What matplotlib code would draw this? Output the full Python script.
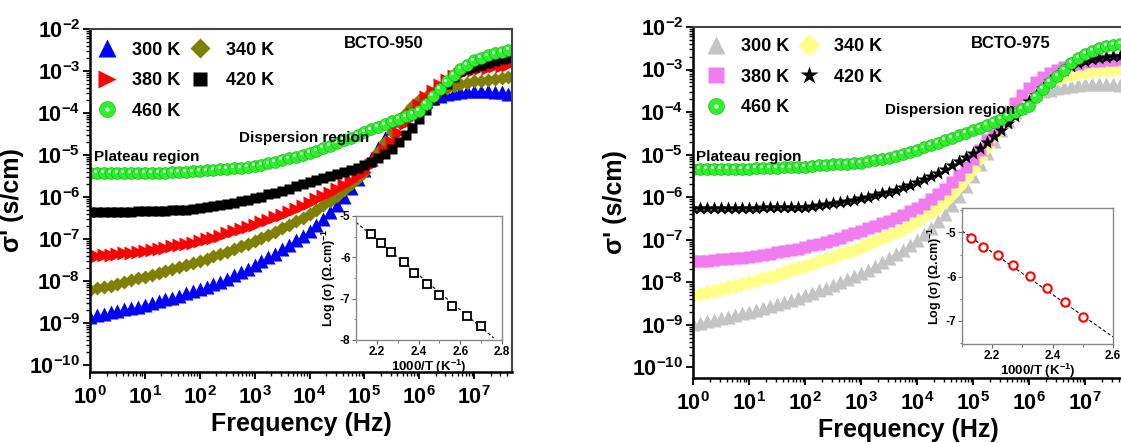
import numpy as np
import matplotlib
matplotlib.use("Agg")
import matplotlib.pyplot as plt
import matplotlib.lines as mlines
import matplotlib.ticker as mticker
import matplotlib.transforms as mtransforms
from matplotlib.legend_handler import HandlerTuple

plt.rcParams["font.family"] = ["Liberation Sans", "DejaVu Sans"]
plt.rcParams["font.weight"] = "bold"
plt.rcParams["mathtext.fontset"] = "custom"
plt.rcParams["mathtext.rm"] = "Liberation Sans:bold"
plt.rcParams["mathtext.bf"] = "Liberation Sans:bold"
plt.rcParams["mathtext.it"] = "Liberation Sans:bold"

# ---------- data: log10(frequency / Hz) and log10(sigma' / S cm^-1) ----------
log_freq = [0.0, 0.125, 0.25, 0.375, 0.5, 0.625, 0.75, 0.875,
            1.0, 1.125, 1.25, 1.375, 1.5, 1.625, 1.75, 1.875,
            2.0, 2.125, 2.25, 2.375, 2.5, 2.625, 2.75, 2.875,
            3.0, 3.125, 3.25, 3.375, 3.5, 3.625, 3.75, 3.875,
            4.0, 4.125, 4.25, 4.375, 4.5, 4.625, 4.75, 4.875,
            5.0, 5.125, 5.25, 5.375, 5.5, 5.625, 5.75, 5.875,
            6.0, 6.125, 6.25, 6.375, 6.5, 6.625, 6.75, 6.875,
            7.0, 7.125, 7.25, 7.375, 7.5, 7.625]

# BCTO-950
s950_300 = [-8.85, -8.82, -8.78, -8.75, -8.72, -8.68, -8.65, -8.61,
            -8.57, -8.53, -8.49, -8.44, -8.40, -8.35, -8.30, -8.25,
            -8.20, -8.14, -8.08, -8.02, -7.95, -7.87, -7.79, -7.71,
            -7.62, -7.53, -7.44, -7.35, -7.25, -7.14, -7.03, -6.92,
            -6.80, -6.66, -6.52, -6.37, -6.20, -6.00, -5.79, -5.57,
            -5.35, -5.09, -4.84, -4.59, -4.35, -4.17, -4.02, -3.90,
            -3.80, -3.72, -3.65, -3.60, -3.55, -3.52, -3.50, -3.48,
            -3.47, -3.47, -3.48, -3.49, -3.50, -3.55]
s950_340 = [-8.22, -8.18, -8.14, -8.11, -8.07, -8.03, -7.99, -7.94,
            -7.90, -7.86, -7.81, -7.77, -7.72, -7.67, -7.62, -7.57,
            -7.52, -7.47, -7.41, -7.36, -7.30, -7.24, -7.18, -7.12,
            -7.05, -6.98, -6.91, -6.83, -6.75, -6.67, -6.58, -6.49,
            -6.40, -6.30, -6.20, -6.09, -5.97, -5.84, -5.70, -5.56,
            -5.40, -5.17, -4.93, -4.69, -4.45, -4.22, -4.00, -3.83,
            -3.70, -3.61, -3.53, -3.46, -3.40, -3.36, -3.32, -3.28,
            -3.25, -3.23, -3.21, -3.19, -3.17, -3.15]
s950_380 = [-7.42, -7.41, -7.39, -7.38, -7.36, -7.34, -7.33, -7.31,
            -7.29, -7.26, -7.24, -7.21, -7.18, -7.15, -7.12, -7.09,
            -7.05, -7.01, -6.97, -6.92, -6.87, -6.82, -6.77, -6.72,
            -6.66, -6.60, -6.54, -6.48, -6.42, -6.35, -6.28, -6.21,
            -6.14, -6.06, -5.98, -5.90, -5.82, -5.72, -5.62, -5.51,
            -5.40, -5.24, -5.07, -4.89, -4.70, -4.47, -4.24, -4.02,
            -3.80, -3.63, -3.47, -3.33, -3.22, -3.13, -3.06, -3.01,
            -2.97, -2.94, -2.92, -2.89, -2.87, -2.85]
s950_420 = [-6.35, -6.35, -6.35, -6.35, -6.35, -6.35, -6.35, -6.34,
            -6.34, -6.34, -6.33, -6.33, -6.32, -6.31, -6.30, -6.28,
            -6.27, -6.25, -6.22, -6.20, -6.17, -6.14, -6.10, -6.07,
            -6.03, -5.99, -5.94, -5.90, -5.85, -5.80, -5.75, -5.70,
            -5.65, -5.60, -5.55, -5.50, -5.45, -5.40, -5.35, -5.30,
            -5.25, -5.17, -5.08, -4.97, -4.85, -4.70, -4.53, -4.35,
            -4.15, -3.93, -3.70, -3.48, -3.30, -3.14, -3.01, -2.95,
            -2.90, -2.85, -2.80, -2.76, -2.72, -2.70]
s950_460 = [-5.43, -5.43, -5.43, -5.43, -5.43, -5.43, -5.43, -5.43,
            -5.43, -5.43, -5.42, -5.42, -5.41, -5.41, -5.40, -5.39,
            -5.38, -5.37, -5.35, -5.34, -5.33, -5.31, -5.30, -5.28,
            -5.27, -5.24, -5.20, -5.16, -5.12, -5.08, -5.04, -5.00,
            -4.95, -4.90, -4.84, -4.78, -4.72, -4.65, -4.59, -4.52,
            -4.45, -4.39, -4.33, -4.27, -4.20, -4.14, -4.08, -4.02,
            -3.95, -3.78, -3.60, -3.42, -3.25, -3.09, -2.95, -2.85,
            -2.75, -2.68, -2.63, -2.58, -2.54, -2.50]

# BCTO-975
s975_300 = [-8.99, -8.96, -8.92, -8.89, -8.85, -8.81, -8.77, -8.73,
            -8.69, -8.65, -8.60, -8.56, -8.51, -8.46, -8.41, -8.36,
            -8.31, -8.25, -8.19, -8.13, -8.07, -8.00, -7.93, -7.86,
            -7.78, -7.70, -7.61, -7.52, -7.43, -7.33, -7.23, -7.12,
            -7.00, -6.87, -6.73, -6.57, -6.40, -6.19, -5.97, -5.74,
            -5.50, -5.23, -4.96, -4.69, -4.43, -4.20, -3.99, -3.81,
            -3.67, -3.57, -3.51, -3.47, -3.44, -3.41, -3.39, -3.37,
            -3.35, -3.34, -3.34, -3.34, -3.35, -3.37]
s975_340 = [-8.31, -8.27, -8.23, -8.20, -8.16, -8.12, -8.08, -8.04,
            -8.00, -7.96, -7.91, -7.87, -7.82, -7.77, -7.72, -7.67,
            -7.62, -7.57, -7.51, -7.46, -7.40, -7.34, -7.29, -7.23,
            -7.17, -7.10, -7.04, -6.97, -6.90, -6.82, -6.74, -6.65,
            -6.56, -6.45, -6.34, -6.22, -6.10, -5.92, -5.74, -5.55,
            -5.34, -5.07, -4.81, -4.54, -4.28, -4.03, -3.81, -3.65,
            -3.52, -3.42, -3.34, -3.27, -3.21, -3.16, -3.12, -3.09,
            -3.06, -3.04, -3.02, -3.00, -2.99, -2.98]
s975_380 = [-7.51, -7.50, -7.49, -7.48, -7.46, -7.45, -7.43, -7.42,
            -7.40, -7.38, -7.35, -7.33, -7.30, -7.27, -7.24, -7.21,
            -7.17, -7.13, -7.09, -7.05, -7.00, -6.95, -6.90, -6.85,
            -6.79, -6.73, -6.67, -6.61, -6.55, -6.48, -6.41, -6.33,
            -6.25, -6.15, -6.04, -5.92, -5.80, -5.64, -5.47, -5.29,
            -5.11, -4.88, -4.65, -4.42, -4.20, -3.99, -3.79, -3.60,
            -3.44, -3.30, -3.18, -3.08, -3.00, -2.94, -2.90, -2.86,
            -2.83, -2.81, -2.79, -2.78, -2.77, -2.76]
s975_420 = [-6.25, -6.25, -6.25, -6.25, -6.25, -6.25, -6.25, -6.25,
            -6.25, -6.25, -6.24, -6.24, -6.24, -6.23, -6.23, -6.22,
            -6.22, -6.20, -6.18, -6.15, -6.13, -6.11, -6.08, -6.06,
            -6.03, -5.99, -5.95, -5.91, -5.87, -5.82, -5.77, -5.71,
            -5.65, -5.58, -5.50, -5.42, -5.34, -5.25, -5.16, -5.06,
            -4.96, -4.84, -4.71, -4.57, -4.43, -4.26, -4.09, -3.92,
            -3.75, -3.59, -3.43, -3.28, -3.14, -3.02, -2.92, -2.85,
            -2.79, -2.75, -2.72, -2.70, -2.69, -2.68]
s975_460 = [-5.33, -5.33, -5.33, -5.33, -5.33, -5.33, -5.33, -5.33,
            -5.33, -5.32, -5.32, -5.31, -5.31, -5.30, -5.30, -5.29,
            -5.28, -5.27, -5.25, -5.24, -5.23, -5.22, -5.21, -5.20,
            -5.19, -5.16, -5.13, -5.10, -5.07, -5.03, -4.98, -4.94,
            -4.89, -4.83, -4.78, -4.72, -4.66, -4.60, -4.55, -4.49,
            -4.43, -4.37, -4.30, -4.23, -4.16, -4.08, -4.00, -3.93,
            -3.85, -3.65, -3.45, -3.29, -3.15, -3.00, -2.85, -2.73,
            -2.64, -2.56, -2.50, -2.45, -2.42, -2.40]

# insets: log(sigma_dc) vs 1000/T
inv_t_950 = [2.17, 2.22, 2.27, 2.33, 2.38, 2.44, 2.50, 2.56, 2.63, 2.70]
logs_950 = [-5.43, -5.65, -5.88, -6.12, -6.37, -6.64, -6.90, -7.17, -7.42, -7.65]
fit_x_950 = [2.10, 2.76]
fit_y_950 = [-5.15, -7.95]

inv_t_975 = [2.13, 2.17, 2.22, 2.27, 2.325, 2.38, 2.44, 2.50]
logs_975 = [-5.13, -5.33, -5.52, -5.74, -5.98, -6.26, -6.58, -6.92]
fit_x_975 = [2.10, 2.60]
fit_y_975 = [-4.97, -7.36]

temps = ["300 K", "340 K", "380 K", "420 K", "460 K"]
x_decades = [0, 1, 2, 3, 4, 5, 6, 7]
y_decades = [-10, -9, -8, -7, -6, -5, -4, -3, -2]

freq = 10.0 ** np.array(log_freq)

W, H = 1121, 443
fig = plt.figure(figsize=(W / 100, H / 100), dpi=100)


def px_axes(x0, x1, y0, y1):
    return fig.add_axes([x0 / W, 1 - y1 / H, (x1 - x0) / W, (y1 - y0) / H])


def balls(ax, x, y, ms):
    # green sphere with a small white highlight up-left
    hl = mtransforms.offset_copy(ax.transData, fig=fig, x=-1.8, y=1.8, units="dots")
    for xi, yi in zip(x, y):
        ax.plot(xi, yi, "o", color="#2cf02c", mec="#1aa81a", mew=0.4, ms=ms)
        ax.plot(xi, yi, "o", color="white", mec="none", ms=2.2, alpha=0.85, transform=hl)


def ball_handle(ms):
    return (mlines.Line2D([], [], marker="o", ls="None", color="#2cf02c", mec="#1aa81a", mew=0.4, ms=ms),
            mlines.Line2D([], [], marker="o", ls="None", color="white", mec="none", ms=ms * 0.28, alpha=0.85))


def minor_positions(decades):
    return [m * 10.0 ** d for d in decades[:-1] for m in range(2, 10)]


def style_main(ax, ybottom):
    ax.set_xscale("log")
    ax.set_yscale("log")
    ax.set_xlim(1, 10 ** 7.69)
    ax.set_ylim(10 ** ybottom, 1e-2)
    fmt = mticker.FuncFormatter(lambda v, p: r"$\mathbf{10^{%d}}$" % round(np.log10(v)))
    ax.xaxis.set_major_locator(mticker.FixedLocator([10.0 ** d for d in x_decades]))
    ax.yaxis.set_major_locator(mticker.FixedLocator([10.0 ** d for d in y_decades]))
    ax.xaxis.set_minor_locator(mticker.FixedLocator(minor_positions(x_decades + [8])
                                                    [:-2]))
    ax.yaxis.set_minor_locator(mticker.FixedLocator(minor_positions(y_decades)))
    ax.xaxis.set_major_formatter(fmt)
    ax.yaxis.set_major_formatter(fmt)
    ax.xaxis.set_minor_formatter(mticker.NullFormatter())
    ax.yaxis.set_minor_formatter(mticker.NullFormatter())
    ax.tick_params(which="major", direction="out", length=5, width=1.3, labelsize=15.5, pad=2)
    ax.tick_params(axis="x", which="major", pad=5)
    ax.tick_params(which="minor", direction="out", length=3, width=1.0)
    ax.tick_params(top=False, right=False)
    for side in ["left", "bottom"]:
        ax.spines[side].set_linewidth(1.8)
        ax.spines[side].set_color("black")
    for side in ["top", "right"]:
        ax.spines[side].set_linewidth(1.5)
        ax.spines[side].set_color("#444444")
    ax.set_xlabel("Frequency (Hz)", fontsize=18, fontweight="bold", labelpad=2)
    ax.set_ylabel("σ' (s/cm)", fontsize=18, fontweight="bold", labelpad=4)


def style_inset(ax, xlim, ylim, xticks, yticks):
    ax.set_xlim(*xlim)
    ax.set_ylim(*ylim)
    ax.set_xticks(xticks)
    ax.set_yticks(yticks)
    ax.xaxis.set_minor_locator(mticker.MultipleLocator(0.1))
    ax.yaxis.set_minor_locator(mticker.MultipleLocator(0.5))
    ax.xaxis.set_major_formatter(mticker.FormatStrFormatter("%.1f"))
    ax.yaxis.set_major_formatter(mticker.FuncFormatter(lambda v, p: "%d" % v))
    ax.tick_params(which="major", direction="out", length=3, width=0.8, labelsize=8.5, pad=1, color="#666666")
    ax.tick_params(which="minor", direction="out", length=1.8, width=0.6, color="#666666")
    for sp in ax.spines.values():
        sp.set_color("#888888")
        sp.set_linewidth(1.0)
    ax.set_xlabel(r"1000/T (K$^{-1}$)", fontsize=9.5, fontweight="bold", labelpad=0)
    ax.set_ylabel(r"Log (σ) (Ω.cm)$^{-1}$", fontsize=9, fontweight="bold", labelpad=1)


def legend(ax, handles, x0, y0):
    order = [0, 2, 4, 1, 3]
    hs = [handles[i] for i in order]
    ls = [temps[i] for i in order]
    leg = ax.legend(hs, ls, loc="upper left", bbox_to_anchor=(x0, y0), ncol=2, frameon=False,
                    prop={"size": 13, "weight": "bold"}, handlelength=1.0, handletextpad=0.9,
                    columnspacing=0.6, labelspacing=0.75, borderpad=0, borderaxespad=0,
                    markerscale=1.35, handler_map={tuple: HandlerTuple(ndivide=1, pad=0)})
    return leg


# ---------- left panel: BCTO-950 ----------
ax1 = px_axes(90, 512, 29, 372)
ax1.plot(freq, 10.0 ** np.array(s950_300), "^", color="#0000ff", mec="none", ms=9.5)
ax1.plot(freq, 10.0 ** np.array(s950_340), "D", color="#808000", mec="none", ms=7.5)
ax1.plot(freq, 10.0 ** np.array(s950_380), ">", color="#ff0000", mec="none", ms=9.5)
ax1.plot(freq, 10.0 ** np.array(s950_420), "s", color="black", mec="none", ms=7)
balls(ax1, freq, 10.0 ** np.array(s950_460), 8.5)
style_main(ax1, -10.17)
h950 = [mlines.Line2D([], [], marker="^", ls="None", color="#0000ff", mec="none", ms=9.5),
        mlines.Line2D([], [], marker="D", ls="None", color="#808000", mec="none", ms=7.5),
        mlines.Line2D([], [], marker=">", ls="None", color="#ff0000", mec="none", ms=9.5),
        mlines.Line2D([], [], marker="s", ls="None", color="black", mec="none", ms=7),
        ball_handle(8.5)]
legend(ax1, h950, 0.019, 0.963)
ax1.text(0.695, 0.959, "BCTO-950", transform=ax1.transAxes, ha="center", va="center",
         fontsize=12, fontweight="bold")
ax1.text(0.507, 0.682, "Dispersion region", transform=ax1.transAxes, ha="center", va="center",
         fontsize=11, fontweight="bold")
ax1.text(0.135, 0.627, "Plateau region", transform=ax1.transAxes, ha="center", va="center",
         fontsize=11, fontweight="bold")

in1 = px_axes(356, 502, 216, 340)
in1.plot(fit_x_950, fit_y_950, ls=(0, (3, 2)), color="black", lw=0.8)
in1.plot(inv_t_950, logs_950, "s", mfc="white", mec="black", mew=1.3, ms=5.5)
style_inset(in1, (2.1, 2.8), (-8, -5), [2.2, 2.4, 2.6, 2.8], [-8, -7, -6, -5])

# ---------- right panel: BCTO-975 ----------
ax2 = px_axes(693, 1124, 27, 378)
ax2.plot(freq, 10.0 ** np.array(s975_300), "^", color="#c4c4c4", mec="none", ms=10)
ax2.plot(freq, 10.0 ** np.array(s975_340), "D", color="#ffff88", mec="none", ms=8.5)
ax2.plot(freq, 10.0 ** np.array(s975_380), "s", color="#f07cf0", mec="none", ms=8.5)
ax2.plot(freq, 10.0 ** np.array(s975_420), "*", color="black", mec="none", ms=10)
balls(ax2, freq, 10.0 ** np.array(s975_460), 8.5)
style_main(ax2, -10.25)
h975 = [mlines.Line2D([], [], marker="^", ls="None", color="#c4c4c4", mec="none", ms=10),
        mlines.Line2D([], [], marker="D", ls="None", color="#ffff88", mec="none", ms=8.5),
        mlines.Line2D([], [], marker="s", ls="None", color="#f07cf0", mec="none", ms=8.5),
        mlines.Line2D([], [], marker="*", ls="None", color="black", mec="none", ms=10),
        ball_handle(8.5)]
legend(ax2, h975, 0.032, 0.968)
ax2.text(0.738, 0.954, "BCTO-975", transform=ax2.transAxes, ha="center", va="center",
         fontsize=12, fontweight="bold")
ax2.text(0.596, 0.764, "Dispersion region", transform=ax2.transAxes, ha="center", va="center",
         fontsize=11, fontweight="bold")
ax2.text(0.130, 0.630, "Plateau region", transform=ax2.transAxes, ha="center", va="center",
         fontsize=11, fontweight="bold")

in2 = px_axes(962, 1113, 208, 344)
in2.plot(fit_x_975, fit_y_975, ls=(0, (3, 2)), color="black", lw=0.8)
in2.plot(inv_t_975, logs_975, "o", mfc="white", mec="#ff0000", mew=1.5, ms=6)
style_inset(in2, (2.1, 2.6), (-7.52, -4.45), [2.2, 2.4, 2.6], [-7, -6, -5])

fig.savefig("out.png", dpi=100)
